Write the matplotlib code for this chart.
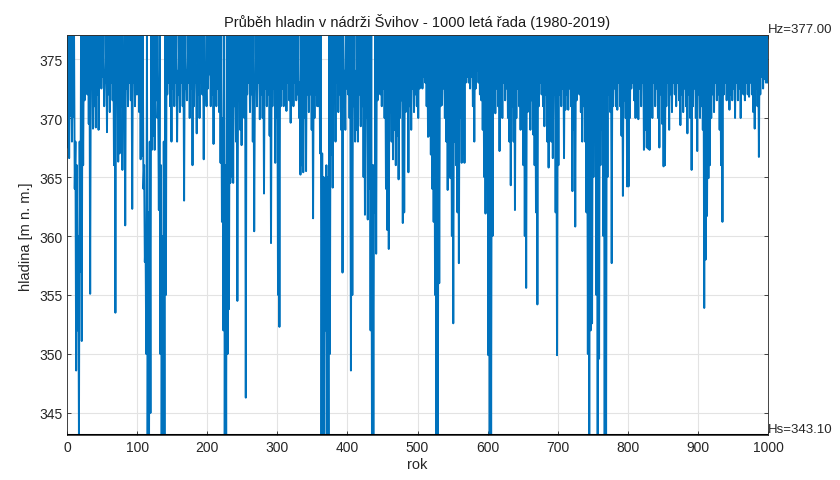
import matplotlib
matplotlib.use("Agg")
import matplotlib.pyplot as plt
import numpy as np

plt.rcParams['font.family'] = ['Liberation Sans', 'DejaVu Sans']

Hz = 377.00
Hs = 343.10

# minimalni hladina v kazdem dvouletem useku (roky 2k, 2k+1)
min_0 = [367.5, 366.6, 370.2, 368.0, 370.1, 364.0, 348.6, 352.0, 343.1, 357.0,
         351.1, 366.0, 371.5, 373.0, 372.0, 369.5, 355.1, 372.5, 369.1, 371.0,
         369.2, 372.0, 369.0, 373.0, 372.5, 373.5, 371.0, 373.0, 368.8, 372.0,
         370.5, 373.0, 371.5, 366.0, 353.5, 372.0, 366.3, 367.0, 371.0, 365.6,
         371.5, 360.9, 372.5, 371.0, 373.0, 371.5, 362.3, 373.0, 371.0, 372.0]
min_1 = [372.0, 370.5, 366.5, 366.8, 364.0, 357.8, 350.0, 343.1, 343.1, 345.0,
         367.3, 368.5, 367.3, 371.5, 370.0, 362.2, 350.0, 343.1, 343.1, 343.1,
         355.0, 372.0, 373.0, 371.0, 368.0, 372.5, 371.0, 373.0, 368.0, 372.0,
         370.5, 373.0, 371.0, 363.0, 372.5, 371.5, 373.0, 370.0, 372.5, 366.0,
         371.0, 373.0, 368.7, 372.0, 370.0, 373.0, 372.0, 366.5, 372.5, 371.0]
min_2 = [372.5, 373.7, 371.0, 372.0, 367.8, 372.0, 371.0, 372.5, 370.5, 366.2,
         361.2, 352.0, 343.1, 343.1, 350.0, 353.8, 364.5, 365.0, 364.5, 371.0,
         368.0, 354.5, 371.5, 369.0, 367.7, 372.5, 370.0, 346.3, 372.0, 373.0,
         370.5, 372.0, 368.0, 360.4, 372.5, 371.0, 373.0, 369.9, 372.0, 370.0,
         363.6, 372.5, 371.0, 372.0, 368.5, 359.4, 371.0, 372.5, 366.2, 370.0]
min_3 = [355.0, 352.3, 371.0, 372.5, 371.0, 372.0, 370.6, 373.0, 371.5, 369.6,
         372.5, 371.0, 373.0, 371.5, 372.0, 370.0, 365.2, 366.0, 365.4, 370.0,
         365.5, 372.0, 370.5, 372.0, 369.0, 361.5, 370.0, 372.0, 371.0, 371.0,
         367.0, 343.1, 343.1, 343.1, 352.0, 343.1, 343.1, 350.0, 366.9, 364.1,
         372.0, 368.0, 373.0, 370.5, 372.0, 369.0, 356.9, 371.0, 369.0, 372.5]
min_4 = [372.0, 370.0, 348.6, 355.0, 371.0, 368.0, 369.0, 368.0, 372.0, 369.3,
         371.0, 365.0, 361.8, 370.0, 361.4, 364.0, 352.0, 343.1, 343.1, 362.0,
         358.5, 371.5, 373.0, 372.0, 371.0, 372.5, 370.0, 364.0, 360.5, 358.9,
         370.5, 368.0, 366.5, 369.0, 366.0, 368.5, 364.8, 370.0, 371.5, 361.1,
         362.0, 370.5, 372.0, 365.4, 371.0, 369.0, 372.5, 370.5, 372.0, 371.0]
min_5 = [370.0, 372.5, 373.0, 372.5, 373.5, 373.0, 371.0, 368.4, 368.5, 366.9,
         364.0, 361.2, 355.0, 343.1, 343.1, 356.0, 371.0, 371.1, 372.5, 370.0,
         368.0, 363.9, 367.0, 364.9, 360.0, 352.6, 368.0, 366.0, 362.0, 357.7,
         370.0, 366.2, 367.0, 366.2, 373.0, 373.5, 373.0, 372.5, 373.5, 371.0,
         368.0, 372.5, 374.0, 373.0, 372.0, 371.5, 369.0, 365.0, 361.9, 368.0]
min_6 = [349.9, 343.1, 343.1, 360.0, 372.0, 370.4, 372.5, 371.0, 367.2, 372.0,
         370.0, 373.0, 371.5, 372.5, 370.0, 368.0, 364.3, 371.0, 368.0, 362.2,
         370.0, 372.5, 371.0, 369.0, 372.0, 366.0, 360.0, 355.6, 370.5, 372.0,
         369.0, 371.5, 368.6, 366.0, 362.0, 354.2, 371.0, 373.0, 372.0, 371.0,
         369.3, 372.0, 368.0, 365.8, 370.5, 368.0, 366.6, 372.0, 362.0, 349.9]
min_7 = [366.0, 372.0, 371.0, 372.5, 366.6, 370.7, 372.0, 370.7, 372.5, 371.0,
         363.8, 369.0, 360.8, 371.5, 373.0, 372.0, 370.5, 368.0, 371.0, 368.0,
         362.0, 350.0, 343.1, 352.0, 352.6, 365.0, 368.0, 355.0, 343.1, 349.6,
         366.0, 369.0, 360.0, 343.1, 343.1, 365.0, 372.0, 370.5, 357.7, 371.0,
         372.5, 371.0, 370.7, 373.0, 371.0, 368.5, 363.4, 371.5, 370.0, 364.2]
min_8 = [364.2, 370.0, 372.5, 373.0, 371.5, 370.0, 372.0, 369.9, 372.5, 371.0,
         373.0, 367.3, 369.0, 367.5, 367.4, 367.3, 371.5, 370.0, 373.0, 371.0,
         372.5, 370.0, 367.5, 372.0, 369.5, 365.9, 366.0, 371.0, 373.0, 369.0,
         372.0, 370.5, 373.0, 372.0, 371.0, 373.0, 371.5, 369.4, 372.0, 370.5,
         372.5, 371.0, 368.7, 372.0, 370.0, 365.6, 371.0, 372.5, 370.0, 367.2]
min_9 = [372.0, 370.0, 371.0, 369.0, 353.9, 358.0, 361.7, 364.9, 366.0, 370.0,
         372.0, 370.5, 373.0, 371.5, 372.0, 369.0, 366.0, 361.2, 372.0, 373.0,
         371.5, 372.5, 370.7, 372.0, 371.5, 372.5, 370.0, 373.0, 371.5, 372.5,
         370.0, 373.0, 372.0, 371.5, 373.0, 372.0, 371.8, 373.0, 372.0, 370.5,
         369.1, 372.5, 371.0, 366.7, 372.0, 373.5, 372.5, 373.3, 373.0, 373.0]

# useky, kdy nadrz nedosahla Hz (pocatecni rok useku a maximum)
nenaplneno_rok = [12, 14, 16, 18, 54, 80, 110, 112, 116, 118, 130, 134, 136, 138,
                  158, 170, 184, 198, 222, 226, 244, 268, 332, 364, 366, 368,
                  370, 372, 396, 412, 436, 438]
nenaplneno_max = [368, 366, 360, 368, 374, 373, 366, 360, 362, 368, 372, 366, 360, 368,
                  374, 374, 374, 374, 370, 366, 373, 373, 373, 367, 365, 364,
                  366, 365, 374, 374, 366, 366]

minima = min_0 + min_1 + min_2 + min_3 + min_4 + min_5 + min_6 + min_7 + min_8 + min_9
maxima = {r: m for r, m in zip(nenaplneno_rok, nenaplneno_max)}

rok = []
hladina = []
for k, hmin in enumerate(minima):
    rok += [2 * k, 2 * k + 1]
    hladina += [maxima.get(2 * k, Hz), hmin]
rok.append(1000)
hladina.append(376.0)

fig = plt.figure(figsize=(8.4, 4.81), dpi=100)
ax = fig.add_axes([0.0798, 0.0927, 0.8345, 0.8316])

ax.plot(rok, hladina, color='#0072BD', lw=1.4)
ax.axhline(Hs, color='black', lw=2.2, zorder=5)
ax.axhline(Hz, color='#333333', lw=1.2, zorder=5)

ax.set_xlim(0, 1000)
ax.set_ylim(Hs, Hz)
ax.set_xticks(np.arange(0, 1001, 100))
ax.set_yticks(np.arange(345, 376, 5))
ax.grid(True, color='#e3e3e3', lw=0.8)
ax.set_axisbelow(True)
ax.tick_params(direction='in', length=3, labelsize=10, colors='#262626',
               top=True, right=True, labelcolor='#262626', width=0.6)
for s in ax.spines.values():
    s.set_color('#262626')
    s.set_linewidth(0.6)

ax.set_title('Průběh hladin v nádrži Švihov - 1000 letá řada (1980-2019)',
             fontsize=10.5, color='#1a1a1a', pad=7)
ax.set_xlabel('rok', fontsize=10.5, color='#262626', labelpad=2)
ax.set_ylabel('hladina [m n. m.]', fontsize=10.5, color='#262626', labelpad=4)

ax.text(1000, Hz, 'Hz=%.2f' % Hz, fontsize=9.5, ha='left', va='bottom',
        color='#262626', clip_on=False)
ax.text(1000, Hs, 'Hs=%.2f' % Hs, fontsize=9.5, ha='left', va='bottom',
        color='#262626', clip_on=False)

fig.savefig('out.png', dpi=100)
